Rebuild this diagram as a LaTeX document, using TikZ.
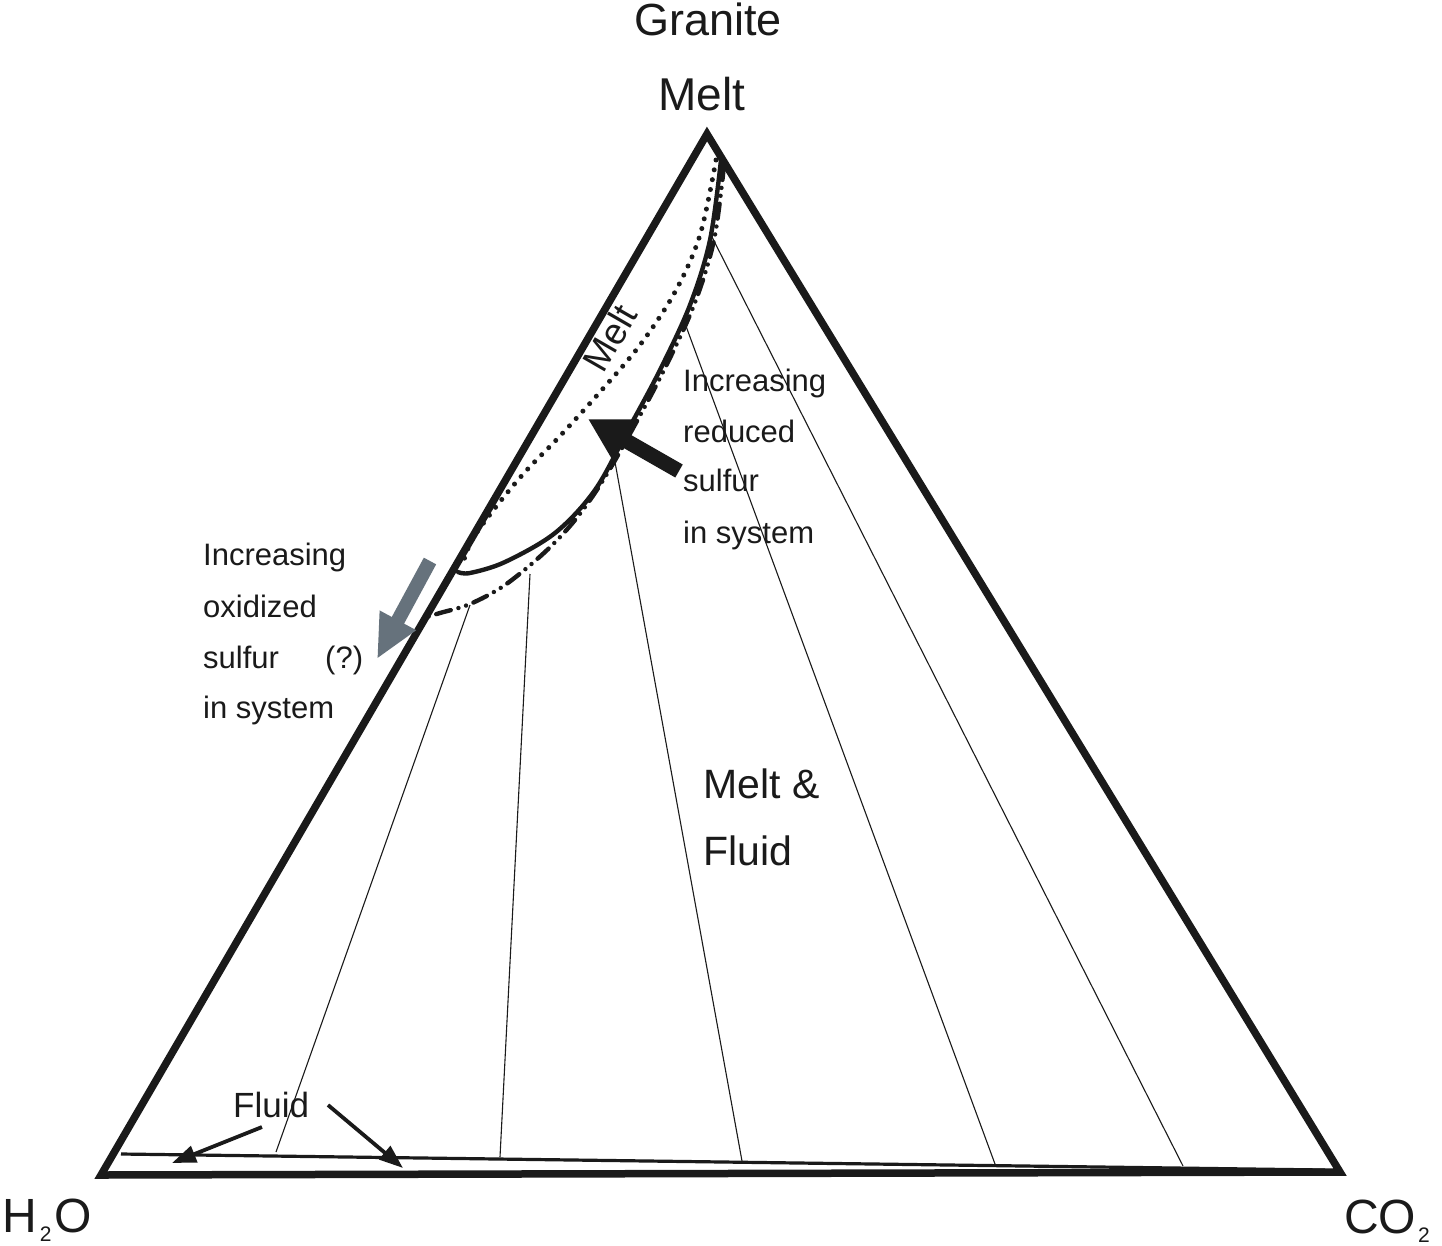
\documentclass[tikz,border=0pt]{standalone}
\usepackage{fontspec}
\setmainfont{Liberation Sans}
\usetikzlibrary{arrows.meta}
\definecolor{ink}{HTML}{1A1A1A}
\definecolor{grayarrow}{HTML}{66727C}
\tikzset{
  edge/.style={line width=7.5pt, line join=miter, draw=ink},
  tieline/.style={line width=1.1pt, draw=ink},
  curvesolid/.style={line width=4.4pt, draw=ink, line cap=round},
  curvedotted/.style={line width=5pt, draw=ink, line cap=round, dash pattern=on 0pt off 10pt},
  curvedashdot/.style={line width=4.4pt, draw=ink, line cap=round, dash pattern=on 15pt off 8pt on 0pt off 8pt on 0pt off 8pt},
  lbl/.style={inner sep=0pt, anchor=base west, text=ink},
  smalltxt/.style={lbl, font=\fontsize{31}{31}\selectfont},
  fluidarrow/.style={line width=3.8pt, draw=ink, -{Triangle[width=17pt,length=24pt]}},
}
\begin{document}
\begin{tikzpicture}[x=1pt,y=-1pt]
\useasboundingbox (0,0) rectangle (1442,1245);
\fill[white] (0,0) rectangle (1442,1245);

% vertices
\coordinate (A) at (707,134);
\coordinate (L) at (101,1175);
\coordinate (R) at (1340,1172);

% fluid boundary line
\coordinate (F1) at (121,1154);
\coordinate (F2) at (1325,1170);
\draw[line width=3.2pt, draw=ink] (F1) -- (F2);

% tie lines
\coordinate (t1a) at (470,605);  \coordinate (t1b) at (276,1152);
\coordinate (t2a) at (530,574);  \coordinate (t2b) at (500,1157);
\coordinate (t3a) at (615,462);  \coordinate (t3b) at (742,1161);
\coordinate (t4a) at (683,318);  \coordinate (t4b) at (995,1164);
\coordinate (t5a) at (712,237);  \coordinate (t5b) at (1183,1166);
\foreach \i in {1,...,5}{\draw[tieline] (t\i a) -- (t\i b);}

% triangle
\draw[edge] (L) -- (A) -- (R) -- cycle;

% curves
\draw[curvedotted] plot[smooth, tension=0.55] coordinates {(716,160) (700,235) (675,292) (640,345) (600,392) (560,436) (525,472) (495,508) (472,540) (462,566)};
\draw[curvesolid] plot[smooth, tension=0.55] coordinates {(721,160) (710,240) (690,305) (660,370) (628,430) (595,490) (555,533) (505,562) (470,573) (458,572)};
\draw[curvedashdot] plot[smooth, tension=0.55] coordinates {(724,165) (714,240) (694,305) (664,370) (632,430) (602,482) (575,520) (545,552) (505,585) (470,604) (440,613) (427,617)};

% black arrow
\coordinate (ba1) at (679,471);
\coordinate (ba2) at (588,419);
\draw[line width=15pt, draw=ink, -{Triangle[width=42pt,length=40pt]}] (ba1) -- (ba2);

% gray arrow
\coordinate (ga1) at (430,561);
\coordinate (ga2) at (377,659);
\draw[line width=14pt, draw=grayarrow, -{Triangle[width=38pt,length=44pt]}] (ga1) -- (ga2);

% fluid arrows
\coordinate (fa1) at (262,1127);
\coordinate (fa2) at (172,1163);
\coordinate (fb1) at (328,1105);
\coordinate (fb2) at (403,1168);
\draw[fluidarrow] (fa1) -- (fa2);
\draw[fluidarrow] (fb1) -- (fb2);

% labels
\node[inner sep=0pt, anchor=base, text=ink, font=\fontsize{45}{45}\selectfont] (granite) at (708,35) {Granite};
\node[inner sep=0pt, anchor=base, text=ink, font=\fontsize{46}{46}\selectfont] (melttop) at (702,110) {Melt};
\node[inner sep=0pt, text=ink, rotate=60, font=\fontsize{37}{37}\selectfont] (meltside) at (610,338) {Melt};

\node[smalltxt] (r1) at (683,391) {Increasing};
\node[smalltxt] (r2) at (683,442) {reduced};
\node[smalltxt] (r3) at (683,491) {sulfur};
\node[smalltxt] (r4) at (683,543) {in system};

\node[smalltxt] (o1) at (203,565) {Increasing};
\node[smalltxt] (o2) at (203,617) {oxidized};
\node[smalltxt] (o3) at (203,668) {sulfur};
\node[smalltxt] (o3b) at (325,668) {(?)};
\node[smalltxt] (o4) at (203,718) {in system};

\node[lbl, font=\fontsize{41}{41}\selectfont] (mf1) at (703,798) {Melt \&};
\node[lbl, font=\fontsize{41}{41}\selectfont] (mf2) at (703,865) {Fluid};

\node[lbl, font=\fontsize{35}{35}\selectfont] (fluid) at (233,1117) {Fluid};

\node[lbl, font=\fontsize{48}{48}\selectfont] (h2o) at (2,1232) {H\hspace{3pt}{\fontsize{21}{21}\selectfont\raisebox{-9pt}{2}}\hspace{3pt}O};
\node[lbl, font=\fontsize{48}{48}\selectfont] (co2) at (1344,1233) {CO\hspace{2pt}{\fontsize{21}{21}\selectfont\raisebox{-9pt}{2}}};
\end{tikzpicture}
\end{document}
